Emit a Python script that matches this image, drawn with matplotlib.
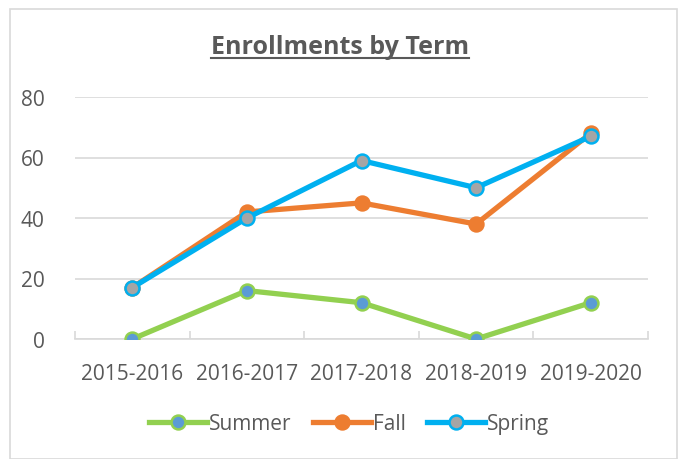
import matplotlib.pyplot as plt
from matplotlib.patches import Rectangle
from matplotlib.lines import Line2D

terms = ["2015-2016", "2016-2017", "2017-2018", "2018-2019", "2019-2020"]
summer = [0, 16, 12, 0, 12]
fall = [17, 42, 45, 38, 68]
spring = [17, 40, 59, 50, 67]

plt.rcParams['font.family'] = ['Open Sans', 'DejaVu Sans']
txt = '#595959'
grid = '#D9D9D9'

fig = plt.figure(figsize=(6.8, 4.6), dpi=100)
fig.patches.append(Rectangle((10 / 680, 0), 667 / 680, 450 / 460, transform=fig.transFigure,
                             fill=False, edgecolor=grid, linewidth=1.2))

ax = fig.add_axes([75 / 680, 1 - 340 / 460, 573 / 680, 242 / 460])
x = range(len(terms))

ax.plot(x, summer, color='#92D050', lw=3.8, marker='o', ms=10,
        mfc='#5B9BD5', mec='#92D050', mew=1.8, label='Summer', zorder=3)
ax.plot(x, fall, color='#ED7D31', lw=3.8, marker='o', ms=10,
        mfc='#ED7D31', mec='#ED7D31', mew=1.8, label='Fall', zorder=4)
ax.plot(x, spring, color='#00B0F0', lw=3.8, marker='o', ms=10,
        mfc='#A5A5A5', mec='#00B0F0', mew=1.8, label='Spring', zorder=5)

ax.set_xlim(-0.5, len(terms) - 0.5)
ax.set_ylim(0, 80)
ax.set_yticks([0, 20, 40, 60, 80])
ax.yaxis.grid(True, color=grid, lw=1.2)
ax.set_axisbelow(True)
ax.set_xticks(list(x))
ax.set_xticklabels(terms)
ax.set_xticks([i + 0.5 for i in range(-1, len(terms))], minor=True)
ax.tick_params(axis='x', which='major', length=0, pad=17, labelsize=15, labelcolor=txt)
ax.tick_params(axis='x', which='minor', length=6, direction='in', color=grid, width=1.2)
ax.tick_params(axis='y', length=0, pad=22, labelsize=15, labelcolor=txt)
for s in ['top', 'right', 'left']:
    ax.spines[s].set_visible(False)
ax.spines['bottom'].set_color(grid)
ax.spines['bottom'].set_linewidth(1.2)
ax.spines['bottom'].set_zorder(1)

title = fig.text(0.5, 1 - 48 / 460, "Enrollments by Term", ha='center', va='center',
                 fontsize=18, fontweight='bold', color=txt)
fig.canvas.draw()
bb = title.get_window_extent(fig.canvas.get_renderer()).transformed(fig.transFigure.inverted())
fig.add_artist(Line2D([bb.x0, bb.x1], [bb.y0 + 0.004, bb.y0 + 0.004], transform=fig.transFigure,
                      color=txt, lw=1.5))

fig.legend(loc='center', bbox_to_anchor=(349 / 680, 1 - 425 / 460), ncol=3, frameon=False,
           fontsize=15, labelcolor=txt, handlelength=2.8, columnspacing=1.0, handletextpad=0.1)

fig.savefig('out.png', dpi=100)
